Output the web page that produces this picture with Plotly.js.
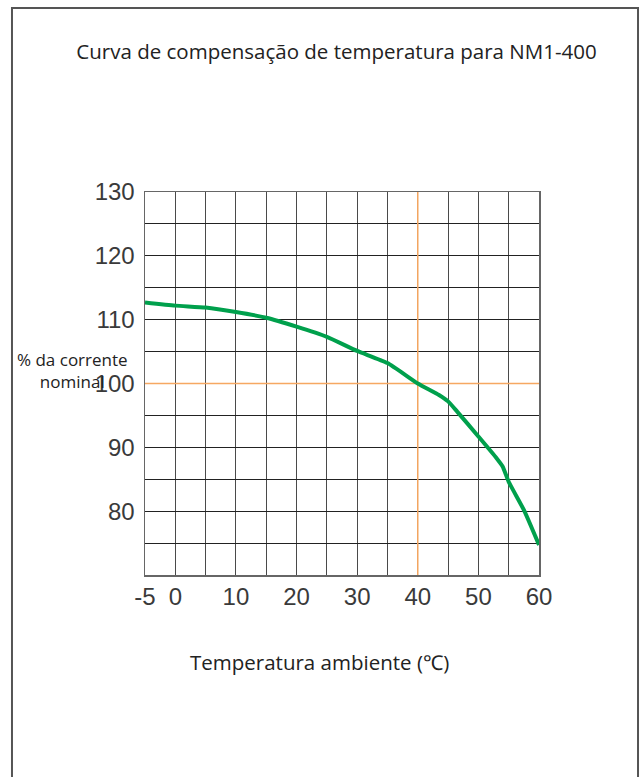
<!DOCTYPE html>
<html>
<head>
<meta charset="utf-8">
<script src="https://cdn.plot.ly/plotly-3.0.1.min.js"></script>
<style>
html,body{margin:0;padding:0;background:#fff;}
#chart{width:641px;height:777px;}
</style>
</head>
<body>
<div id="chart"></div>
<script>
// Data
const temperature = [-5, 0, 5, 10, 15, 20, 25, 30, 35, 40, 43.5, 45, 46.5, 50, 53, 54, 55, 57.5, 60];
const currentPct = [112.7, 112.2, 111.9, 111.2, 110.3, 108.9, 107.3, 105.1, 103.2, 100, 98.2, 97.2, 95.6, 91.7, 88.3, 87, 84.6, 80.2, 74.7];

const xTickVals = [-5, 0, 5, 10, 15, 20, 25, 30, 35, 40, 45, 50, 55, 60];
const xTickText = ['-5', '0', '', '10', '', '20', '', '30', '', '40', '', '50', '', '60'];
const yTickVals = [70, 75, 80, 85, 90, 95, 100, 105, 110, 115, 120, 125, 130];
const yTickText = ['', '', '80', '', '90', '', '100', '', '110', '', '120', '', '130'];

const refTemp = 40;
const refPct = 100;
const xRange = [-5, 60];
const yRange = [70, 130];

const titleText = 'Curva de compensação de temperatura para NM1-400';
const xTitle = 'Temperatura ambiente (℃)';
const yTitle = '% da corrente<br>nominal';

const orange = '#f6a862';
const green = '#00a04c';

const traces = [
  {x: [refTemp, refTemp], y: yRange, mode: 'lines', line: {color: orange, width: 1.5}, hoverinfo: 'skip', showlegend: false},
  {x: xRange, y: [refPct, refPct], mode: 'lines', line: {color: orange, width: 1.5}, hoverinfo: 'skip', showlegend: false},
  {x: temperature, y: currentPct, mode: 'lines', line: {color: green, width: 4, shape: 'spline', smoothing: 0.5}, showlegend: false}
];

const tickFont = {family: '"Liberation Sans", Arial, sans-serif', size: 24, color: '#3a3a3a'};
const textFont = {family: '"Open Sans", "Noto Sans", sans-serif', size: 20.5, color: '#222'};

const layout = {
  width: 641, height: 777,
  paper_bgcolor: '#fff', plot_bgcolor: '#fff',
  margin: {l: 145, r: 102, t: 192, b: 202, pad: 0},
  title: {text: titleText, font: textFont, x: 0.525, xanchor: 'center', y: 0.933, yanchor: 'middle'},
  xaxis: {
    range: xRange, tickmode: 'array', tickvals: xTickVals, ticktext: xTickText,
    showgrid: true, gridcolor: '#4a4a4a', gridwidth: 1,
    showline: true, linecolor: '#666', linewidth: 1.5, mirror: true,
    ticks: '', tickfont: tickFont, zeroline: false, fixedrange: true
  },
  yaxis: {
    range: yRange, tickmode: 'array', tickvals: yTickVals, ticktext: yTickText,
    showgrid: true, gridcolor: '#222', gridwidth: 1,
    showline: true, linecolor: '#666', linewidth: 1.5, mirror: true,
    ticks: '', tickfont: tickFont, zeroline: false, fixedrange: true,
    ticklabelstandoff: 4
  },
  annotations: [{
    text: yTitle, xref: 'paper', yref: 'paper', x: -0.185, y: 0.535,
    xanchor: 'center', yanchor: 'middle', align: 'center', showarrow: false,
    font: {family: '"Open Sans", "Noto Sans", sans-serif', size: 17, color: '#222'}
  }, {
    text: xTitle, xref: 'paper', yref: 'paper', x: 0.444, y: -0.227,
    xanchor: 'center', yanchor: 'middle', showarrow: false, font: textFont
  }],
  shapes: [{
    type: 'rect', xref: 'paper', yref: 'paper',
    x0: -0.3376, x1: 1.2513, y0: -0.56, y1: 1.4804,
    line: {color: '#555', width: 2}, fillcolor: 'rgba(0,0,0,0)', layer: 'below'
  }]
};

Plotly.newPlot('chart', traces, layout, {displayModeBar: false, staticPlot: true});
</script>
</body>
</html>
